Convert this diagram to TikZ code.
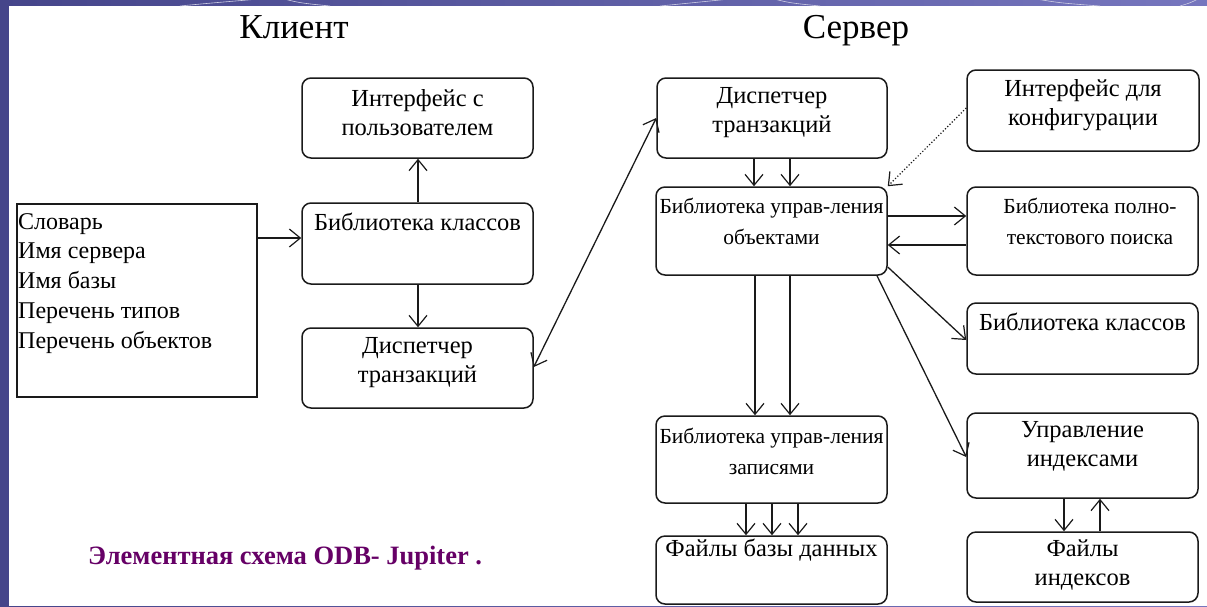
\documentclass[tikz,border=0pt]{standalone}
\usepackage{fontspec}
\setmainfont{Liberation Serif}
\usetikzlibrary{arrows.meta,fit}
\definecolor{bgblue}{HTML}{5B5BA5}
\definecolor{bgleft}{HTML}{45458A}
\definecolor{bgright}{HTML}{7676BE}
\definecolor{capcol}{HTML}{660066}
\definecolor{linecol}{HTML}{1A1A1A}
\begin{document}
\begin{tikzpicture}[x=1pt,y=-1pt,
  rbox/.style={draw=linecol, line width=1.5pt, rounded corners=9pt, inner sep=0pt},
  sbox/.style={draw=linecol, line width=1.5pt, inner sep=0pt},
  txt/.style={inner sep=0pt, align=center, font=\fontsize{24.5}{29}\selectfont},
  stxt/.style={inner sep=0pt, align=center, font=\fontsize{21.5}{31}\selectfont},
  ttl/.style={inner sep=0pt, anchor=base, font=\fontsize{35}{40}\selectfont},
  arr/.style={line width=1.3pt, draw=linecol, -{Straight Barb[length=11pt,width=18pt,line width=1.2pt]}},
  darr/.style={line width=1.3pt, draw=linecol, {Straight Barb[length=11pt,width=18pt,line width=1.2pt]}-{Straight Barb[length=11pt,width=18pt,line width=1.2pt]}},
  dotarr/.style={line width=1.2pt, draw=linecol, dotted, -{Straight Barb[length=11pt,width=18pt,line width=1.2pt]}}
]
\useasboundingbox (0,0) rectangle (1207,606);
% background frame
\shade[left color=bgleft, right color=bgright] (0,0) rectangle (1207,606);
\fill[white] (9,6) rectangle (1207,606);
\draw[white!70!bgblue, line width=0.6pt] (180,6) .. controls (220,2) and (250,0) .. (270,-2);
\draw[white!70!bgblue, line width=0.6pt] (330,6) .. controls (300,3) .. (280,-2);
\draw[white!70!bgblue, line width=0.6pt] (660,6) .. controls (700,2) .. (740,-2);
\draw[white!70!bgblue, line width=0.6pt] (820,6) .. controls (790,3) .. (770,-2);
\draw[white!70!bgblue, line width=0.6pt] (1100,6) .. controls (1060,3) .. (1030,-2);
\draw[white!70!bgblue, line width=0.6pt] (1180,6) .. controls (1190,3) .. (1200,-2);

% titles
\node[ttl] (tcl) at (294,38) {Клиент};
\node[ttl] (tsv) at (856,38) {Сервер};

% client side
\node[rbox, fit={(302,78) (533,158)}] (cint) {};
\node[txt] (tcint) at (417.5,113) {Интерфейс с\\пользователем};
\node[rbox, fit={(302,203) (533,284)}] (clib) {};
\node[txt] (tclib) at (417.5,222) {Библиотека классов};
\node[rbox, fit={(302,328) (533,408)}] (cdisp) {};
\node[txt] (tcdisp) at (417.5,363) {Диспетчер\\транзакций};
\node[sbox, fit={(17,204) (257,397)}] (cdict) {};
\node[inner sep=0pt, anchor=north west, align=left, font=\fontsize{24}{29.8}\selectfont] (tcdict) at (18,213)
  {Словарь\\Имя сервера\\Имя базы\\Перечень типов\\Перечень объектов};

% server side
\node[rbox, fit={(657,78) (887,158)}] (sdisp) {};
\node[txt] (tsdisp) at (772,113) {Диспетчер\\транзакций};
\node[rbox, fit={(967,70) (1199,151)}] (scfg) {};
\node[txt] (tscfg) at (1083,105) {Интерфейс для\\конфигурации};
\node[rbox, fit={(656,187) (887,275)}] (sobj) {};
\node[stxt] (tsobj) at (771.5,221) {Библиотека управ-ления\\объектами};
\node[rbox, fit={(967,187) (1198,275)}] (sfts) {};
\node[stxt] (tsfts) at (1090,221) {Библиотека полно-\\текстового поиска};
\node[rbox, fit={(967,303) (1198,374)}] (scls) {};
\node[txt] (tscls) at (1082.5,322) {Библиотека классов};
\node[rbox, fit={(656,416) (887,503)}] (srec) {};
\node[stxt] (tsrec) at (771.5,451) {Библиотека управ-ления\\записями};
\node[rbox, fit={(967,413) (1198,498)}] (sidx) {};
\node[txt] (tsidx) at (1082.5,446) {Управление\\индексами};
\node[rbox, fit={(656,536) (887,604)}] (sdb) {};
\node[txt] (tsdb) at (771.5,550) {Файлы базы данных};
\node[rbox, fit={(967,532) (1198,602)}] (sif) {};
\node[txt] (tsif) at (1082.5,565) {Файлы\\индексов};

% caption
\node[inner sep=0pt, anchor=west, text=capcol, font=\bfseries\fontsize{26.5}{30}\selectfont] (cap) at (88,558) {Элементная схема ODB- Jupiter .};

% client connectors
\draw[arr] (cdict.east |- 0,238) -- (clib.west |- 0,238);
\draw[arr] (clib.north -| 418,0) -- (cint.south -| 418,0);
\draw[arr] (clib.south -| 418,0) -- (cdisp.north -| 418,0);
\draw[darr] (cdisp.east |- 0,367) -- (sdisp.west |- 0,118);

% server connectors
\draw[arr] (sdisp.south -| 754,0) -- (sobj.north -| 754,0);
\draw[arr] (sdisp.south -| 790,0) -- (sobj.north -| 790,0);
\draw[dotarr] (scfg.west |- 0,108) -- (sobj.north east);
\draw[arr] (sobj.east |- 0,216) -- (sfts.west |- 0,216);
\draw[arr] (sfts.west |- 0,245) -- (sobj.east |- 0,245);
\draw[arr] (sobj.east |- 0,267) -- (scls.west |- 0,340);
\draw[arr] (sobj.south -| 877,0) -- (sidx.west |- 0,457);
\draw[arr] (sobj.south -| 755,0) -- (srec.north -| 755,0);
\draw[arr] (sobj.south -| 790,0) -- (srec.north -| 790,0);
\draw[arr] (srec.south -| 746,0) -- (sdb.north -| 746,0);
\draw[arr] (srec.south -| 772,0) -- (sdb.north -| 772,0);
\draw[arr] (srec.south -| 798,0) -- (sdb.north -| 798,0);
\draw[arr] (sidx.south -| 1064,0) -- (sif.north -| 1064,0);
\draw[arr] (sif.north -| 1100,0) -- (sidx.south -| 1100,0);
\end{tikzpicture}
\end{document}
